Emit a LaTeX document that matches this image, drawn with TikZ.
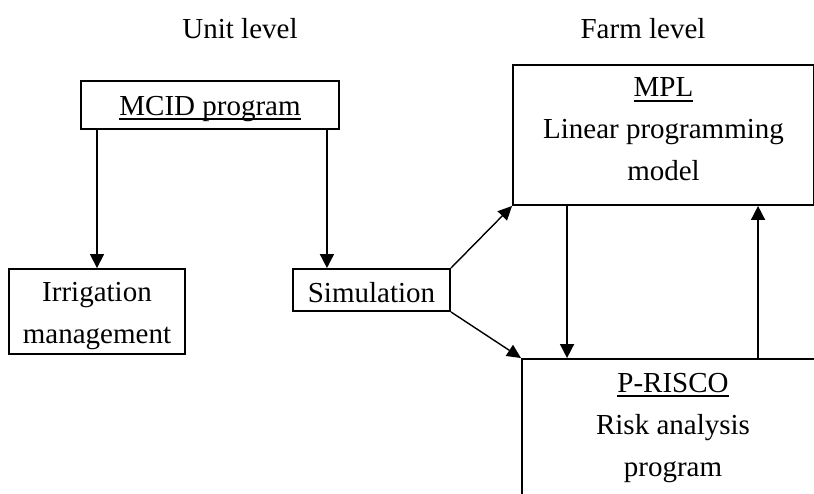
\documentclass[tikz,border=0pt]{standalone}
\usepackage{fontspec}
\setmainfont{Liberation Serif}
\usetikzlibrary{arrows.meta}
\newcommand\myul[1]{\setbox0=\hbox{#1}\rlap{\rule[-4.6pt]{\wd0}{1.8pt}}\box0}
\begin{document}
\begin{tikzpicture}[x=1pt,y=-1pt,
  every node/.style={font=\fontsize{29}{42}\selectfont, inner sep=0pt},
  boxnode/.style={draw, line width=1.9pt, align=center},
  arr/.style={line width=1.6pt, -{Triangle[length=14pt,width=14pt]}},
  diag/.style={line width=1.4pt, -{Triangle[length=14pt,width=13pt]}}]
\useasboundingbox (0,0) rectangle (814,493);
\node[anchor=base] (unit) at (240,38) {Unit level};
\node[anchor=base] (farm) at (643,38) {Farm level};
\node[boxnode, minimum width=258pt, minimum height=48pt, text height=20pt, text depth=0pt] (mcid) at (210,105) {\myul{MCID program}};
\node[boxnode, minimum width=176pt, minimum height=85pt] (irr) at (97,311.5) {\rule{0pt}{28pt}Irrigation\\management};
\node[boxnode, minimum width=157pt, minimum height=42pt, text height=24pt, text depth=0pt] (sim) at (371.5,290) {Simulation};
\node[boxnode, minimum width=301pt, minimum height=140pt] (mpl) at (663.5,135) {\myul{MPL}\\Linear programming\\model\rule[-11pt]{0pt}{0pt}};
\node[boxnode, minimum width=302pt, minimum height=142pt] (prisco) at (673,430) {\myul{P-RISCO}\\Risk analysis\\program\rule[-11pt]{0pt}{0pt}};
\draw[arr] (mcid.south -| irr.north) -- (irr.north);
\draw[arr] ([xshift=-13pt]mcid.south east) -- ([xshift=-13pt]mcid.south east |- sim.north);
\draw[diag] (sim.north east) -- (mpl.south west);
\draw[diag] (sim.south east) -- (prisco.north west);
\draw[arr] ([xshift=55pt]mpl.south west) -- ([xshift=55pt]mpl.south west |- prisco.north);
\draw[arr] ([xshift=246pt]mpl.south west |- prisco.north) -- ([xshift=246pt]mpl.south west);
\end{tikzpicture}
\end{document}
